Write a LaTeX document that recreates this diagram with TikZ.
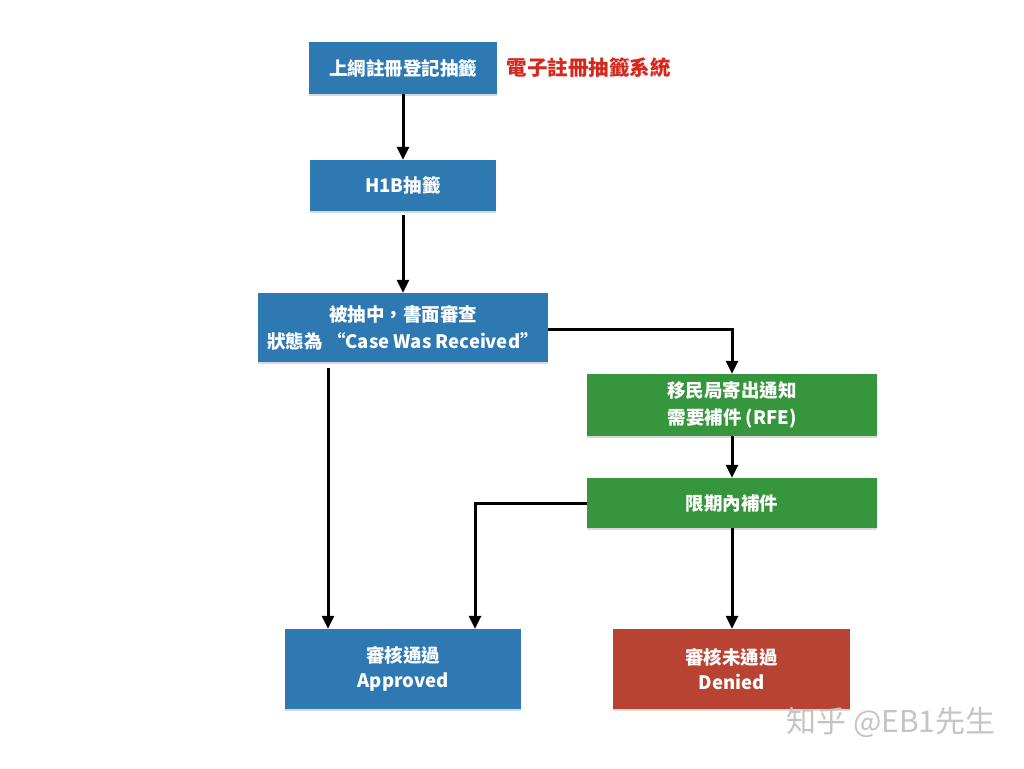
\documentclass[tikz,border=0pt]{standalone}
\usepackage{fontspec}
\setmainfont{Noto Sans CJK TC}
\usetikzlibrary{arrows.meta,shadows}
\definecolor{bblue}{HTML}{2F79B3}
\definecolor{bgreen}{HTML}{36963D}
\definecolor{bred}{HTML}{B84333}
\definecolor{tred}{HTML}{D42A1E}
\definecolor{wm}{HTML}{C4C4C4}
\tikzset{
  box/.style={draw=none, inner sep=0pt, align=center, text=white,
    font=\bfseries\fontsize{18.5}{27}\selectfont,
    drop shadow={opacity=0.3, shadow xshift=0pt, shadow yshift=-2pt}},
  bluebox/.style={box, fill=bblue},
  greenbox/.style={box, fill=bgreen},
  redbox/.style={box, fill=bred},
  flow/.style={line width=3pt, -{Triangle[length=13pt,width=12pt]}}
}
\begin{document}
\begin{tikzpicture}[x=1pt,y=-1pt]
\useasboundingbox[fill=white] (0,0) rectangle (1024,768);
\node[bluebox, minimum width=188pt, minimum height=52pt] (b1) at (403,68) {上網註冊登記抽籤};
\node[anchor=west, text=tred, font=\bfseries\fontsize{20.5}{24}\selectfont] (lbl) at (503,68) {電子註冊抽籤系統};
\node[bluebox, minimum width=186pt, minimum height=51pt] (b2) at (403,185.5) {H1B抽籤};
\node[bluebox, minimum width=290pt, minimum height=69pt] (b3) at (403,327.5) {被抽中，書面審查\\狀態為 “Case Was Received”};
\node[greenbox, minimum width=290pt, minimum height=62pt] (g1) at (732,405) {移民局寄出通知\\需要補件 (RFE)};
\node[greenbox, minimum width=290pt, minimum height=50pt] (g2) at (732,503) {限期內補件};
\node[bluebox, minimum width=236pt, minimum height=80pt, font=\bfseries\fontsize{18.5}{24.5}\selectfont] (app) at (403,669) {審核通過\\Approved};
\node[redbox, minimum width=237pt, minimum height=80pt, font=\bfseries\fontsize{18.5}{24.5}\selectfont] (den) at (731.5,669) {審核未通過\\Denied};
\node[anchor=east, text=wm, font=\fontsize{30}{34}\selectfont] (wmk) at (999,722) {知乎 @EB1先生};

\draw[flow] (b1) -- (b2);
\draw[flow, shorten <=4pt] (b2) -- (b3);
\draw[flow] ([yshift=-1.5pt]b3.east) -| (g1.north);
\draw[flow, shorten <=6pt] ([xshift=-75pt]b3.south) -- ([xshift=-75pt]b3.south |- app.north);
\draw[flow] (g1) -- (g2);
\draw[flow] (g2.west) -| ([xshift=72pt]app.north);
\draw[flow] (g2.south) -- (g2.south |- den.north);
\end{tikzpicture}
\end{document}
